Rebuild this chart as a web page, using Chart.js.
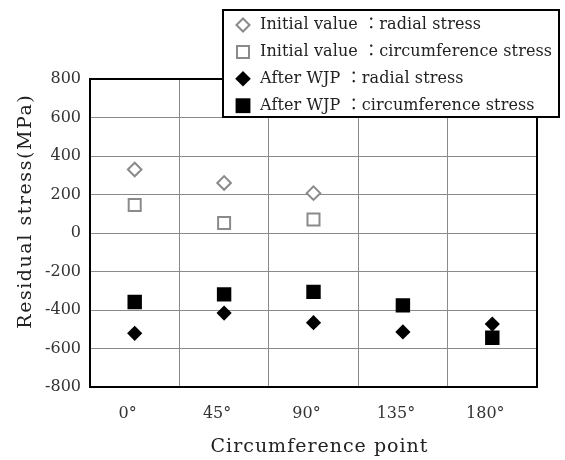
<!DOCTYPE html>
<html><head><meta charset="utf-8">
<script src="https://cdn.jsdelivr.net/npm/chart.js@4"></script>
<style>html,body{margin:0;padding:0;background:#fff}</style>
</head><body>
<canvas id="c" width="565" height="460"></canvas>
<script>
const categories = ['0°', '45°', '90°', '135°', '180°'];
const initialRadial = [330, 260, 207, null, null];
const initialCircum = [145, 52, 70, null, null];
const afterRadial = [-521, -416, -466, -514, -473];
const afterCircum = [-358, -319, -306, -376, -544];
const seriesNames = [
  'Initial value ：radial stress',
  'Initial value ：circumference stress',
  'After WJP ：radial stress',
  'After WJP ：circumference stress'
];
const yTicks = [800, 600, 400, 200, 0, -200, -400, -600, -800];
const xTitle = 'Circumference point';
const yTitle = 'Residual stress(MPa)';

const FONT = "'DejaVu Serif', 'Liberation Serif', 'Noto Sans CJK JP', serif";

function fitText(ctx, text, x, y, target) {
  ctx.letterSpacing = '0px';
  const w = ctx.measureText(text).width;
  const ls = (target - w) / text.length;
  ctx.letterSpacing = ls.toFixed(2) + 'px';
  ctx.fillText(text, x + ls / 2, y);
  ctx.letterSpacing = '0px';
}

const frameAndText = {
  id: 'frameAndText',
  beforeDatasetsDraw(chart) {
    const {ctx, chartArea: a} = chart;
    ctx.save();
    ctx.strokeStyle = '#000';
    ctx.lineWidth = 2;
    ctx.strokeRect(a.left, a.top, a.right - a.left, a.bottom - a.top);
    ctx.restore();
  },
  afterDraw(chart) {
    const ctx = chart.ctx;
    ctx.save();
    // axis titles
    ctx.fillStyle = '#222';
    ctx.font = "19px " + FONT;
    ctx.textAlign = 'center';
    ctx.textBaseline = 'middle';
    fitText(ctx, xTitle, 319, 447, 218);
    ctx.save();
    ctx.translate(26.5, 212);
    ctx.rotate(-Math.PI / 2);
    fitText(ctx, yTitle, 0, 0, 235);
    ctx.restore();
    // legend box
    const bx = 223, by = 10, bw = 336, bh = 107;
    ctx.fillStyle = '#fff';
    ctx.fillRect(bx, by, bw, bh);
    ctx.strokeStyle = '#000';
    ctx.lineWidth = 2;
    ctx.strokeRect(bx, by, bw, bh);
    const legendR = [6.5, 8.5, 7.8, 10.5];
    ctx.font = "16px " + FONT;
    ctx.letterSpacing = '0px';
    const longest = seriesNames[1];
    const ls = (292 - ctx.measureText(longest).width) / longest.length;
    chart.data.datasets.forEach((ds, i) => {
      const y = 25 + i * 26.9;
      ctx.fillStyle = ds.pointBackgroundColor;
      ctx.strokeStyle = ds.pointBorderColor;
      ctx.lineWidth = ds.pointBorderWidth;
      Chart.helpers.drawPoint(ctx, {pointStyle: ds.pointStyle, radius: legendR[i], borderWidth: ds.pointBorderWidth, rotation: 0}, 243, y);
      ctx.fillStyle = '#222';
      ctx.font = "16px " + FONT;
      ctx.textAlign = 'left';
      ctx.textBaseline = 'middle';
      ctx.letterSpacing = ls.toFixed(2) + 'px';
      ctx.fillText(ds.label, 260, y);
      ctx.letterSpacing = '0px';
    });
    ctx.restore();
  }
};

const mk = (label, data, style, fill, stroke, bw, r, order) => ({
  label, data, showLine: false, pointStyle: style,
  pointBackgroundColor: fill, pointBorderColor: stroke, pointBorderWidth: bw,
  pointRadius: r, pointHoverRadius: r, order
});

new Chart(document.getElementById('c'), {
  type: 'line',
  data: {
    labels: categories,
    datasets: [
      mk(seriesNames[0], initialRadial, 'rectRot', '#fff', '#8a8a8a', 2, 6.8, 3),
      mk(seriesNames[1], initialCircum, 'rect', '#fff', '#8a8a8a', 2, 8.5, 2),
      mk(seriesNames[2], afterRadial, 'rectRot', '#000', '#000', 0, 7.6, 1),
      mk(seriesNames[3], afterCircum, 'rect', '#000', '#000', 0, 10.2, 0)
    ]
  },
  options: {
    responsive: false,
    devicePixelRatio: 1,
    animation: false,
    layout: {padding: {left: 0, top: 79, right: 28, bottom: 0}},
    plugins: {legend: {display: false}, tooltip: {enabled: false}},
    scales: {
      x: {
        offset: true,
        grid: {offset: true, color: '#8a8a8a', lineWidth: 1, drawTicks: false},
        border: {display: false},
        ticks: {font: {family: FONT, size: 16}, color: '#333', padding: 17, labelOffset: -7, maxRotation: 0},
        afterFit(s) { s.height = 73; }
      },
      y: {
        min: -800, max: 800,
        afterBuildTicks(s) { s.ticks = yTicks.map(v => ({value: v})); },
        grid: {color: '#8a8a8a', lineWidth: 1, drawTicks: false},
        border: {display: false},
        ticks: {font: {family: FONT, size: 16}, color: '#333', padding: 9},
        afterFit(s) { s.width = 90; }
      }
    }
  },
  plugins: [frameAndText]
});
</script>
</body></html>
